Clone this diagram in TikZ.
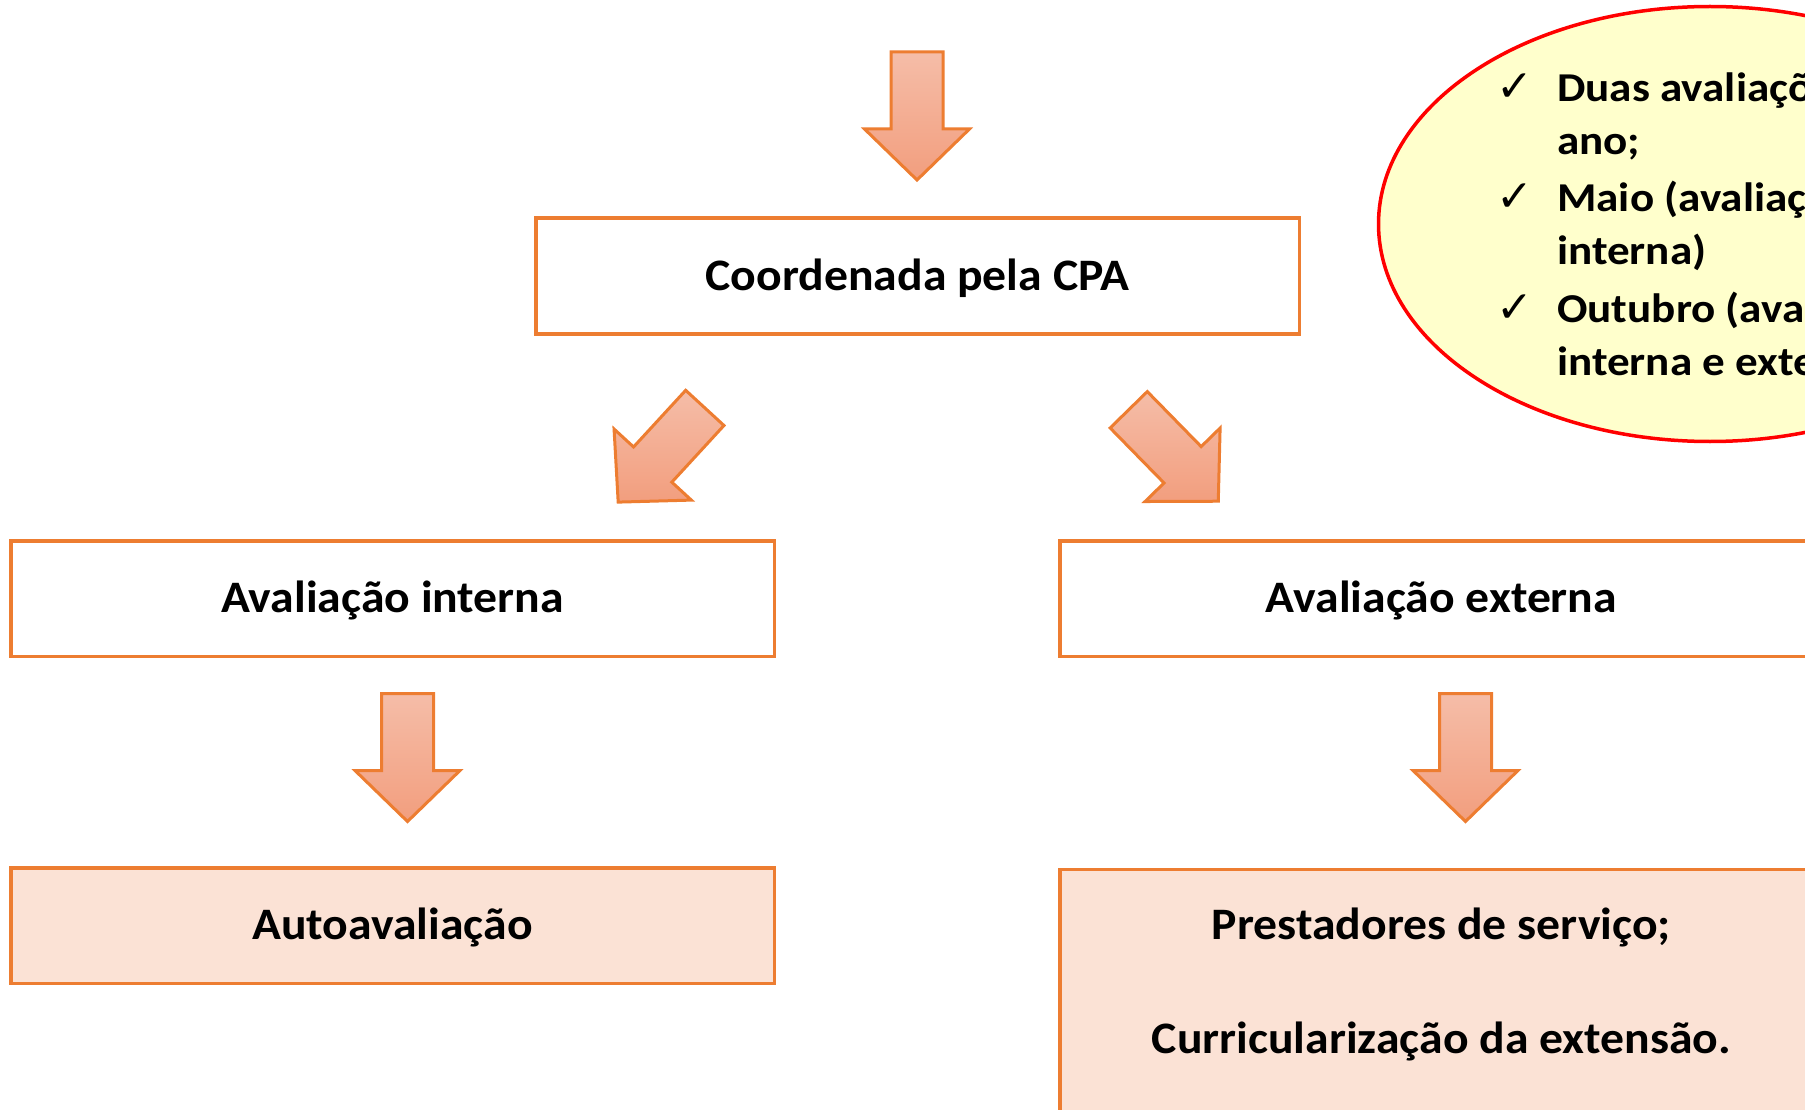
\documentclass[tikz,border=0pt]{standalone}
\usepackage{fontspec}
\setmainfont{Carlito}[FakeStretch=1.06]
\newfontfamily\notafonte{Carlito}[FakeStretch=1.1]
\newfontfamily\simbolo{DejaVu Sans}
\usetikzlibrary{shapes.geometric}
\definecolor{laranja}{HTML}{ED7D31}
\definecolor{pessego}{HTML}{FBE2D5}
\definecolor{setaclara}{HTML}{F5BDA8}
\definecolor{setaescura}{HTML}{F29E7E}
\definecolor{amarelo}{HTML}{FFFFCC}
\tikzset{
  caixa/.style={draw=laranja, line width=3.5pt, fill=white, minimum width=763.5pt, minimum height=115.5pt, inner sep=0pt},
  caixacor/.style={caixa, fill=pessego},
  rotulo/.style={font=\fontsize{45}{54}\selectfont\bfseries, text height=28.4pt, text depth=0pt},
  linhanota/.style={font=\notafonte\fontsize{41}{49}\selectfont\bfseries, anchor=base west, inner sep=0pt},
  seta/.style={draw=laranja, line width=3pt, line join=miter, top color=setaclara, bottom color=setaescura},
  nota/.style={ellipse, draw=red, line width=3.5pt, fill=amarelo, minimum width=663pt, minimum height=435pt, inner sep=0pt},
}
\begin{document}
\begin{tikzpicture}[x=1pt, y=-1pt]
  \useasboundingbox (0,0) rectangle (1805,1110);
  \clip (0,0) rectangle (1805,1110);
  % caixas
  \node[caixa, rotulo] (cpa) at (917.5,276) {Coordenada pela CPA};
  \node[caixa, rotulo] (interna) at (392.5,598.5) {Avaliação interna};
  \node[caixa, rotulo] (externa) at (1441.5,598.5) {Avaliação externa};
  \node[caixacor, rotulo] (auto) at (392.5,925.5) {Autoavaliação};
  \node[caixacor, minimum height=380pt, anchor=north] (presta) at (1441.5,867.75) {};
  \node[rotulo] (servico) at (1441.5,925.5) {Prestadores de serviço;};
  \node[rotulo] (curric) at (1441.5,1039.5) {Curricularização da extensão.};
  % setas em bloco
  \foreach \cx/\cy/\ang in {917/116/0, 661.5/455/-42.6, 1173.5/455.5/44.4, 407.5/757.5/0, 1465.5/757.5/0}
    \draw[seta, shift={(\cx,\cy)}, rotate=\ang] (-26,-64)--(26,-64)--(26,13)--(52.5,13)--(0,64)--(-52.5,13)--(-26,13)--cycle;
  % nota
  \node[nota] (datas) at (1710,224) {};
  \foreach \yy in {102,212,322}\node[anchor=base west, inner sep=0pt, font=\simbolo\fontsize{44}{50}\selectfont] (marca\yy) at (1496,\yy) {✓};
  \foreach \yy/\txt [count=\i] in {102/Duas avaliações por, 155/ano;, 212/Maio (avaliação, 265/interna), 322/Outubro (avaliação, 375/interna e externa)}
    \node[linhanota] (linha\i) at (1557,\yy) {\txt};
\end{tikzpicture}
\end{document}
